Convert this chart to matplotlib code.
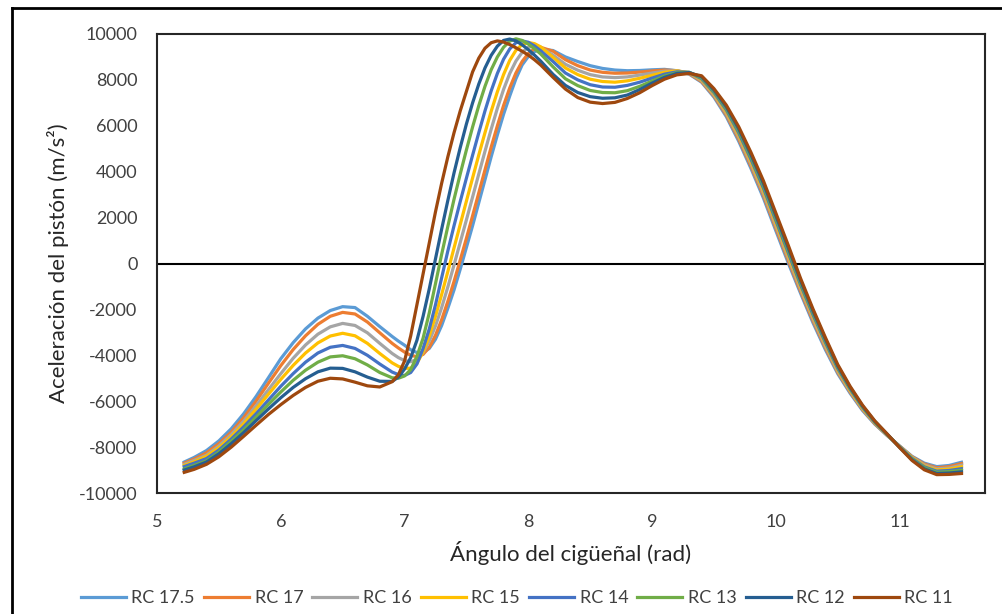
import matplotlib.pyplot as plt
from matplotlib.lines import Line2D

plt.rcParams['font.family'] = ['Lato', 'DejaVu Sans']
plt.rcParams['axes.unicode_minus'] = False

# crank angle (rad), shared by all series
angle = [5.22, 5.3, 5.4, 5.5, 5.6, 5.7, 5.8, 5.9, 6.0, 6.1, 6.2, 6.3, 6.4, 6.5, 6.6, 6.7, 6.8, 6.9,
         6.95, 7.0, 7.05, 7.1, 7.15, 7.2, 7.25, 7.3, 7.35, 7.4, 7.45, 7.5, 7.55, 7.6, 7.65, 7.7,
         7.75, 7.8, 7.85, 7.9, 7.95, 8.0, 8.05, 8.1,
         8.2, 8.3, 8.4, 8.5, 8.6, 8.7, 8.8, 8.9, 9.0, 9.1, 9.2, 9.3,
         9.4, 9.5, 9.6, 9.7, 9.8, 9.9, 10.0, 10.1, 10.2, 10.3, 10.4, 10.5, 10.6, 10.7, 10.8, 10.9,
         11.0, 11.1, 11.2, 11.3, 11.4, 11.5]

rc_175 = [-8650, -8450, -8150, -7730, -7200, -6550, -5800, -4980, -4150, -3450, -2850, -2380, -2050, -1880, -1920, -2300, -2750, -3180,
          -3380, -3560, -3760, -3880, -3880, -3700, -3300, -2700, -1950, -1150, -250, 700, 1650, 2650, 3650, 4650,
          5600, 6500, 7300, 8050, 8650, 9020, 9230, 9340,
          9280, 9000, 8800, 8620, 8500, 8430, 8400, 8410, 8440, 8460, 8400, 8250,
          7900, 7250, 6400, 5330, 4130, 2850, 1430, 30, -1300, -2580, -3750, -4800, -5650, -6400, -7000, -7500,
          -7950, -8400, -8700, -8850, -8800, -8660]
rc_17 = [-8700, -8520, -8250, -7850, -7350, -6720, -6000, -5220, -4450, -3750, -3150, -2650, -2300, -2130, -2200, -2550, -3020, -3480,
         -3680, -3860, -4000, -4060, -3960, -3650, -3130, -2450, -1650, -780, 150, 1100, 2080, 3080, 4080, 5070,
         6000, 6880, 7650, 8300, 8800, 9150, 9360, 9420,
         9250, 8880, 8620, 8430, 8330, 8290, 8300, 8340, 8390, 8430, 8400, 8270,
         7930, 7300, 6470, 5420, 4230, 2960, 1540, 140, -1210, -2490, -3670, -4740, -5600, -6360, -6980, -7490,
         -7960, -8420, -8740, -8900, -8850, -8720]
rc_16 = [-8750, -8580, -8350, -7950, -7450, -6870, -6200, -5500, -4800, -4130, -3550, -3080, -2760, -2610, -2700, -3020, -3480, -3920,
         -4100, -4230, -4280, -4180, -3880, -3380, -2720, -1920, -1020, -60, 920, 1900, 2900, 3900, 4890, 5850,
         6760, 7580, 8280, 8820, 9200, 9420, 9480, 9420,
         9080, 8680, 8420, 8230, 8130, 8100, 8130, 8210, 8300, 8380, 8400, 8300,
         7970, 7350, 6540, 5510, 4330, 3060, 1650, 250, -1110, -2400, -3590, -4690, -5560, -6330, -6960, -7480,
         -7970, -8440, -8780, -8950, -8910, -8790]
rc_15 = [-8800, -8640, -8400, -8030, -7550, -6990, -6350, -5700, -5050, -4440, -3900, -3460, -3160, -3040, -3150, -3480, -3920, -4330,
         -4480, -4570, -4560, -4350, -3850, -3150, -2300, -1350, -350, 680, 1700, 2720, 3730, 4730, 5700, 6630,
         7480, 8230, 8850, 9290, 9540, 9630, 9580, 9440,
         8980, 8520, 8230, 8030, 7930, 7900, 7960, 8070, 8200, 8330, 8390, 8320,
         8010, 7400, 6610, 5600, 4430, 3170, 1760, 360, -1020, -2310, -3510, -4630, -5520, -6300, -6940, -7470,
         -7980, -8460, -8820, -9000, -8960, -8860]
rc_14 = [-8850, -8700, -8500, -8130, -7650, -7120, -6550, -5950, -5350, -4800, -4300, -3900, -3650, -3570, -3700, -4000, -4380, -4730,
         -4840, -4880, -4750, -4380, -3700, -2850, -1800, -620, 550, 1650, 2700, 3720, 4720, 5700, 6650, 7520,
         8280, 8900, 9350, 9620, 9700, 9640, 9480, 9270,
         8800, 8300, 8000, 7790, 7690, 7680, 7760, 7900, 8080, 8250, 8350, 8330,
         8050, 7450, 6690, 5690, 4530, 3280, 1870, 470, -930, -2230, -3440, -4570, -5470, -6260, -6920, -7460,
         -7990, -8490, -8860, -9050, -9020, -8940]
rc_13 = [-8950, -8800, -8600, -8220, -7750, -7250, -6700, -6140, -5600, -5090, -4650, -4300, -4070, -4020, -4150, -4420, -4750, -4980,
         -5000, -4900, -4620, -4050, -3250, -2150, -880, 400, 1620, 2800, 3900, 4950, 5950, 6880, 7720, 8440,
         9000, 9420, 9690, 9790, 9720, 9560, 9360, 9130,
         8570, 8050, 7750, 7540, 7450, 7440, 7530, 7720, 7950, 8170, 8310, 8330,
         8090, 7500, 6760, 5780, 4630, 3390, 1980, 580, -840, -2140, -3360, -4510, -5430, -6230, -6900, -7450,
         -8000, -8520, -8900, -9100, -9070, -9010]
rc_12 = [-9000, -8860, -8650, -8290, -7850, -7370, -6850, -6340, -5850, -5400, -5020, -4720, -4560, -4570, -4720, -4950, -5130, -5140,
         -4950, -4600, -4100, -3350, -2300, -1100, 200, 1500, 2750, 3950, 5050, 6080, 7000, 7820, 8520, 9070,
         9470, 9720, 9780, 9700, 9530, 9320, 9080, 8820,
         8240, 7760, 7450, 7270, 7200, 7220, 7340, 7580, 7860, 8110, 8280, 8320,
         8140, 7560, 6830, 5870, 4730, 3490, 2090, 690, -740, -2060, -3290, -4460, -5390, -6200, -6880, -7440,
         -8010, -8550, -8950, -9150, -9130, -9080]
rc_11 = [-9100, -8970, -8750, -8420, -8000, -7530, -7050, -6580, -6150, -5750, -5400, -5130, -5000, -5030, -5170, -5330, -5380, -5150,
         -4850, -4250, -3150, -1800, -450, 900, 2250, 3500, 4650, 5700, 6650, 7500, 8350, 8950, 9380, 9620,
         9700, 9650, 9540, 9400, 9250, 9080, 8880, 8650,
         8110, 7600, 7230, 7030, 6970, 7020, 7190, 7440, 7750, 8030, 8220, 8280,
         8180, 7620, 6900, 5960, 4830, 3600, 2200, 800, -650, -1980, -3220, -4400, -5350, -6170, -6860, -7430,
         -8020, -8580, -8990, -9200, -9190, -9150]

labels = ['RC 17.5', 'RC 17', 'RC 16', 'RC 15', 'RC 14', 'RC 13', 'RC 12', 'RC 11']
series = [rc_175, rc_17, rc_16, rc_15, rc_14, rc_13, rc_12, rc_11]
colors = ['#5B9BD5', '#ED7D31', '#A5A5A5', '#FFC000', '#4472C4', '#70AD47', '#255E91', '#9E480E']

fig = plt.figure(figsize=(10.02, 6.14), dpi=100)
ax = fig.add_axes([157 / 1002, 1 - 493 / 614, (985 - 157) / 1002, (493 - 34) / 614])

ax.axhline(0, color='black', lw=1.5, zorder=1)
for vals, lab, col in zip(series, labels, colors):
    ax.plot(angle, vals, color=col, lw=2.3, label=lab, solid_joinstyle='round', zorder=2)

ax.set_xlim(5, 11.69)
ax.set_ylim(-10000, 10000)
ax.set_xticks(range(5, 12))
ax.set_yticks(range(-10000, 10001, 2000))
ax.tick_params(length=0, labelsize=13, labelcolor='#404040')
ax.tick_params(axis='x', pad=15)
ax.tick_params(axis='y', pad=14)
for s in ax.spines.values():
    s.set_color('#262626')
    s.set_linewidth(1.5)

ax.set_xlabel('Ángulo del cigüeñal (rad)', fontsize=16, color='#262626')
ax.set_ylabel('Aceleración del pistón (m/s²)', fontsize=16, color='#262626')
ax.xaxis.set_label_coords(0.5, (493 - 553) / 459)
ax.yaxis.set_label_coords((58 - 157) / 828, 0.5)
ax.xaxis.label.set_va('center')
ax.yaxis.label.set_va('center')

fig.legend(loc='center', bbox_to_anchor=(517 / 1002, 1 - 598 / 614), ncol=8, frameon=False,
           fontsize=13, handlelength=2.5, handletextpad=0.3, columnspacing=0.5,
           labelcolor='#404040')

# outer chart border (top and left visible)
fig.add_artist(Line2D([12 / 1002, 1], [1 - 7.5 / 614, 1 - 7.5 / 614], color='black', lw=2,
                      transform=fig.transFigure))
fig.add_artist(Line2D([12 / 1002, 12 / 1002], [0, 1 - 7.5 / 614], color='black', lw=2,
                      transform=fig.transFigure))

fig.savefig('out.png', dpi=100)
